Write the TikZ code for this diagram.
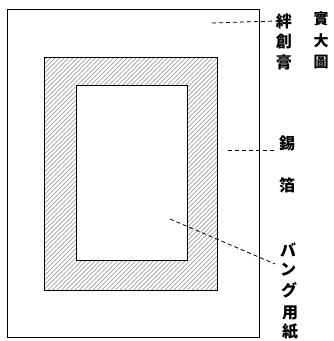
\documentclass[tikz,border=0pt]{standalone}
\usepackage{fontspec}
\newfontfamily\cjk{Noto Sans CJK JP}
\begin{document}
\begin{tikzpicture}[x=1pt,y=-1pt,
  frame/.style={draw=black,line width=1pt},
  hatch/.style={draw=black!45,line width=0.4pt},
  leader/.style={draw=black,line width=0.8pt,dash pattern=on 4pt off 3pt},
  ch/.style={inner sep=0pt,font=\cjk\bfseries\fontsize{16}{16}\selectfont},
  chs/.style={inner sep=0pt,font=\cjk\bfseries\fontsize{15}{15}\selectfont}]
\useasboundingbox (0,0) rectangle (334,341);
% outer sheet
\draw[frame] (7,9) rectangle (259,337);
% hatched foil
\begin{scope}
\clip (44,57) rectangle (217,290);
\foreach \i in {-240,-235.5,...,220} {\draw[hatch] (\i,290) -- ++(233,-233);}
\end{scope}
\draw[frame] (44,57) rectangle (217,290);
% inner paper
\fill[white] (76,85) rectangle (187,260);
\draw[frame] (76,85) rectangle (187,260);
% labels
\node[ch] (a1) at (284,21) {絆};
\node[ch] (a2) at (284,42) {創};
\node[ch] (a3) at (284,62) {膏};
\node[chs] (b1) at (321,19) {實};
\node[chs] (b2) at (321,41) {大};
\node[chs] (b3) at (321,62) {圖};
\node[ch] (c1) at (287,143) {錫};
\node[ch] (c2) at (287,185) {箔};
\node[ch] (d1) at (288,250) {バ};
\node[ch] (d2) at (288,270) {ン};
\node[ch] (d3) at (289,290) {グ};
\node[ch] (d4) at (290,313) {用};
\node[ch] (d5) at (290,332) {紙};
% leaders
\coordinate (s1) at (212,23);
\coordinate (s2) at (228,150);
\coordinate (e2) at (276,150);
\coordinate (s3) at (170,219);
\coordinate (e3) at (275,264);
\draw[leader] (s1) -- (a1.west);
\draw[leader] (s2) -- (e2);
\draw[leader] (s3) -- (e3);
\end{tikzpicture}
\end{document}
